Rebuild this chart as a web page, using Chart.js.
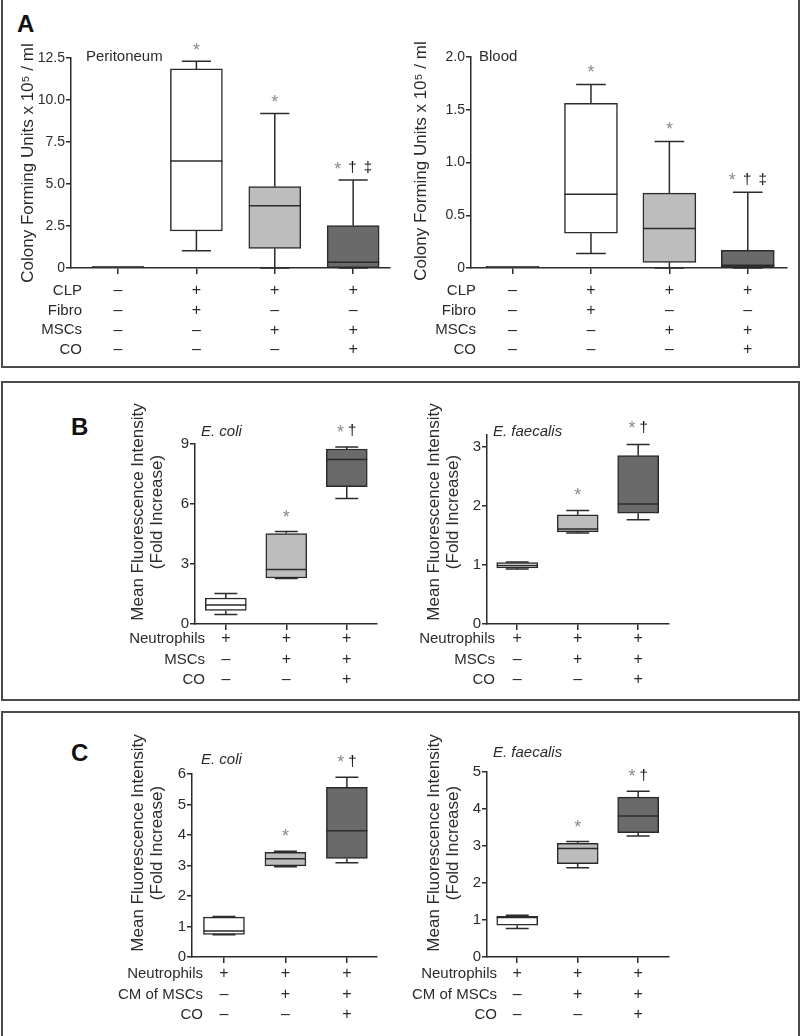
<!DOCTYPE html>
<html>
<head>
<meta charset="utf-8">
<script src="https://cdn.jsdelivr.net/npm/chart.js@4.4.1/dist/chart.umd.min.js"></script>
<style>
body { margin: 0; background: #fff; width: 800px; height: 1036px; position: relative; overflow: hidden; font-family: "Liberation Sans", Arial, sans-serif; }
canvas { position: absolute; left: 0; top: 0; }
.panel { position: absolute; border: 2px solid #4a4a4a; box-sizing: border-box; }
.letter { position: absolute; font-weight: bold; font-size: 24px; line-height: 24px; color: #111; }
</style>
</head>
<body>
<div class="panel" style="left:1px;top:-4px;width:799px;height:372px"></div>
<div class="panel" style="left:1px;top:381px;width:799px;height:320px"></div>
<div class="panel" style="left:1px;top:711px;width:799px;height:340px"></div>
<div class="letter" style="left:17px;top:12px">A</div>
<div class="letter" style="left:71px;top:415px">B</div>
<div class="letter" style="left:71px;top:741px">C</div>

<canvas id="peri" width="800" height="1036"></canvas>
<canvas id="blood" width="800" height="1036"></canvas>
<canvas id="ecoliB" width="800" height="1036"></canvas>
<canvas id="faecB" width="800" height="1036"></canvas>
<canvas id="ecoliC" width="800" height="1036"></canvas>
<canvas id="faecC" width="800" height="1036"></canvas>

<script>
//=====================================
// data
//=====================================

// panel A : CFU x 10^5 / ml, 4 groups
const groupsA = [1, 2, 3, 4];
const rowNamesA = ['CLP', 'Fibro', 'MSCs', 'CO'];
const clpA   = ['–', '+', '+', '+'];
const fibroA = ['–', '+', '–', '–'];
const mscA   = ['–', '–', '+', '+'];
const coA    = ['–', '–', '–', '+'];

const periMin = [0.03, 1.03, 0, 0];
const periQ1  = [0.03, 2.2, 1.17, 0.02];
const periMed = [0.06, 6.37, 3.7, 0.34];
const periQ3  = [0.09, 11.85, 4.84, 2.52];
const periMax = [0.09, 12.3, 9.2, 5.24];
const periTicks = [0, 2.5, 5, 7.5, 10, 12.5];
const periMarks = ['', '*', '*', '* † ‡'];

const bloodMin = [0.005, 0.137, 0, 0];
const bloodQ1  = [0.005, 0.33, 0.054, 0.008];
const bloodMed = [0.01, 0.70, 0.375, 0.026];
const bloodQ3  = [0.015, 1.56, 0.71, 0.168];
const bloodMax = [0.015, 1.74, 1.2, 0.718];
const bloodTicks = [0, 0.5, 1, 1.5, 2];
const bloodMarks = ['', '*', '*', '* † ‡'];

// panel B : phagocytosis, neutrophils + MSCs
const groupsBC = [1, 2, 3];
const rowNamesB = ['Neutrophils', 'MSCs', 'CO'];
const rowNamesC = ['Neutrophils', 'CM of MSCs', 'CO'];
const neutroRow = ['+', '+', '+'];
const mscRow    = ['–', '+', '+'];
const coRow     = ['–', '–', '+'];

const ecoliBMin = [0.47, 2.27, 6.27];
const ecoliBQ1  = [0.68, 2.3, 6.87];
const ecoliBMed = [0.95, 2.72, 8.22];
const ecoliBQ3  = [1.3, 4.52, 8.75];
const ecoliBMax = [1.52, 4.62, 8.85];
const ecoliBTicks = [0, 3, 6, 9];

const faecBMin = [0.93, 1.54, 1.765];
const faecBQ1  = [0.95, 1.56, 1.875];
const faecBMed = [0.99, 1.61, 2.03];
const faecBQ3  = [1.04, 1.85, 2.85];
const faecBMax = [1.05, 1.92, 3.04];
const faecBTicks = [0, 1, 2, 3];

// panel C : conditioned medium of MSCs
const ecoliCMin = [0.73, 2.96, 3.09];
const ecoliCQ1  = [0.74, 2.99, 3.23];
const ecoliCMed = [0.85, 3.22, 4.14];
const ecoliCQ3  = [1.31, 3.43, 5.56];
const ecoliCMax = [1.33, 3.47, 5.89];
const ecoliCTicks = [0, 1, 2, 3, 4, 5, 6];

const faecCMin = [0.77, 2.41, 3.27];
const faecCQ1  = [0.86, 2.52, 3.36];
const faecCMed = [1.07, 2.93, 3.81];
const faecCQ3  = [1.10, 3.07, 4.32];
const faecCMax = [1.13, 3.12, 4.48];
const faecCTicks = [0, 1, 2, 3, 4, 5];

const marksBC = ['', '*', '*†'];

//=====================================
// style
//=====================================
const INK = '#2b2b2b';
const FONT = '"Liberation Sans", Arial, sans-serif';
const fill4 = ['#ffffff', '#ffffff', '#bdbdbd', '#6a6a6a'];
const fill3 = ['#ffffff', '#bdbdbd', '#6a6a6a'];
const Y_W = 40, X_H = 10, X_TICK = 6;

// whiskers, medians, significance marks, +/- table, titles
function makeBoxPlugin(d) {
  return {
    id: 'boxes',
    afterDatasetsDraw(chart) {
      const {ctx, chartArea: a, scales: {x, y}} = chart;
      ctx.save();
      ctx.strokeStyle = INK;
      ctx.lineWidth = 1.5;
      const hw = d.boxW / 2, cw = d.boxW * 0.28;
      const y0 = a.bottom + X_TICK + d.rowPad + d.rowLH / 2;
      d.pos.forEach((p, i) => {
        const cx = x.getPixelForValue(p);
        const yq1 = y.getPixelForValue(d.q1[i]), yq3 = y.getPixelForValue(d.q3[i]);
        const ylo = y.getPixelForValue(d.lo[i]), yhi = y.getPixelForValue(d.hi[i]);
        const ymed = y.getPixelForValue(d.med[i]);
        ctx.beginPath();
        if (d.hi[i] > d.q3[i]) {
          ctx.moveTo(cx, yq3); ctx.lineTo(cx, yhi);
          ctx.moveTo(cx - cw, yhi); ctx.lineTo(cx + cw, yhi);
        }
        if (d.lo[i] < d.q1[i]) {
          ctx.moveTo(cx, yq1); ctx.lineTo(cx, ylo);
          ctx.moveTo(cx - cw, ylo); ctx.lineTo(cx + cw, ylo);
        }
        ctx.moveTo(cx - hw, ymed); ctx.lineTo(cx + hw, ymed);
        ctx.stroke();

        // * † ‡
        const parts = [...(d.marks[i] || '')];
        if (parts.length) {
          const fontOf = c => c === '*' ? '18px ' + FONT : '15px ' + FONT;
          let w = 0;
          parts.forEach(c => { ctx.font = fontOf(c); w += ctx.measureText(c).width + d.gap; });
          w -= d.gap;
          let xx = cx - w / 2;
          const yc = yhi - d.markUp;
          ctx.textAlign = 'left';
          ctx.textBaseline = 'alphabetic';
          parts.forEach(c => {
            ctx.font = fontOf(c);
            ctx.fillStyle = c === '*' ? '#8a8a8a' : '#111';
            ctx.fillText(c, xx, yc + (c === '*' ? 7 : 4.3));
            xx += ctx.measureText(c).width + d.gap;
          });
        }

        // +/- under this group
        ctx.fillStyle = INK;
        ctx.font = '16px ' + FONT;
        ctx.textAlign = 'center';
        ctx.textBaseline = 'middle';
        d.rows.forEach((r, k) => ctx.fillText(r[i], cx, y0 + k * d.rowLH));
      });

      // row names of the +/- table
      ctx.fillStyle = INK;
      ctx.font = '15px ' + FONT;
      ctx.textAlign = 'right';
      ctx.textBaseline = 'middle';
      d.rowNames.forEach((n, k) => ctx.fillText(n, d.rowRight, y0 + k * d.rowLH));

      // panel subtitle
      ctx.textAlign = 'left';
      ctx.font = (d.subItalic ? 'italic ' : '') + '15px ' + FONT;
      ctx.fillText(d.sub, d.subX, d.subY);

      // y title
      ctx.save();
      ctx.translate(d.titleX, d.titleY);
      ctx.rotate(-Math.PI / 2);
      ctx.textAlign = 'center';
      ctx.font = '17px ' + FONT;
      d.title.forEach((t, k) => ctx.fillText(t, 0, k * 19));
      ctx.restore();

      ctx.restore();
    }
  };
}

function boxChart(id, d) {
  const pad = {
    left: d.area[0] - Y_W, top: d.area[1],
    right: 800 - d.area[2], bottom: 1036 - d.area[3] - X_H
  };
  return new Chart(document.getElementById(id), {
    type: 'bar',
    data: {
      datasets: [{
        data: d.pos.map((p, i) => ({x: p, y: [d.q1[i], d.q3[i]]})),
        backgroundColor: d.fill,
        borderColor: INK,
        borderWidth: 1.5,
        borderSkipped: false,
        barThickness: d.boxW
      }]
    },
    options: {
      responsive: false,
      animation: false,
      layout: {padding: pad},
      plugins: {legend: {display: false}, tooltip: {enabled: false}},
      scales: {
        x: {
          type: 'linear', min: d.xMin, max: d.xMax, offset: false,
          afterBuildTicks: s => { s.ticks = d.pos.map(v => ({value: v})); },
          afterFit: s => { s.height = X_H; },
          ticks: {autoSkip: false, maxRotation: 0, callback: () => ''},
          grid: {offset: false, drawOnChartArea: false, tickLength: X_TICK, color: INK, lineWidth: 1.5},
          border: {color: INK, width: 1.5}
        },
        y: {
          min: 0, max: d.yMax,
          afterBuildTicks: s => { s.ticks = d.yTicks.map(v => ({value: v})); },
          afterFit: s => { s.width = Y_W; },
          ticks: {
            padding: 1, color: INK, font: {family: FONT, size: d.tickSize},
            callback: v => v === 0 ? '0' : v.toFixed(d.dec)
          },
          grid: {drawOnChartArea: false, tickLength: 5, color: INK, lineWidth: 1.5},
          border: {color: INK, width: 1.5}
        }
      }
    },
    plugins: [makeBoxPlugin(d)]
  });
}

//=====================================
// charts
//=====================================
const titleA = ['Colony Forming Units x 10⁵ / ml'];
const titleBC = ['Mean Fluorescence Intensity', '(Fold Increase)'];

boxChart('peri', {
  area: [71, 58, 390, 268], xMin: 0.4, xMax: 4.47, yMax: 12.5, yTicks: periTicks, dec: 1, tickSize: 14,
  pos: groupsA, lo: periMin, q1: periQ1, med: periMed, q3: periQ3, hi: periMax, fill: fill4,
  boxW: 52, marks: periMarks, markUp: 12, gap: 1.5,
  rows: [clpA, fibroA, mscA, coA], rowNames: rowNamesA, rowRight: 82, rowPad: 7.2, rowLH: 19.6,
  sub: 'Peritoneum', subItalic: false, subX: 86, subY: 57,
  title: titleA, titleX: 28, titleY: 163
});

boxChart('blood', {
  area: [471, 57, 787, 268], xMin: 0.47, xMax: 4.5, yMax: 2, yTicks: bloodTicks, dec: 1, tickSize: 14,
  pos: groupsA, lo: bloodMin, q1: bloodQ1, med: bloodMed, q3: bloodQ3, hi: bloodMax, fill: fill4,
  boxW: 53, marks: bloodMarks, markUp: 13, gap: 1.5,
  rows: [clpA, fibroA, mscA, coA], rowNames: rowNamesA, rowRight: 476, rowPad: 7.2, rowLH: 19.6,
  sub: 'Blood', subItalic: false, subX: 479, subY: 57,
  title: titleA, titleX: 421, titleY: 161
});

boxChart('ecoliB', {
  area: [195, 444, 377, 624], xMin: 0.49, xMax: 3.5, yMax: 9, yTicks: ecoliBTicks, dec: 0, tickSize: 15,
  pos: groupsBC, lo: ecoliBMin, q1: ecoliBQ1, med: ecoliBMed, q3: ecoliBQ3, hi: ecoliBMax, fill: fill3,
  boxW: 41, marks: marksBC, markUp: 16, gap: 4,
  rows: [neutroRow, mscRow, coRow], rowNames: rowNamesB, rowRight: 205, rowPad: -1.2, rowLH: 20.5,
  sub: 'E. coli', subItalic: true, subX: 201, subY: 432,
  title: titleBC, titleX: 138, titleY: 512
});

boxChart('faecB', {
  area: [487, 435, 669, 624], xMin: 0.5, xMax: 3.51, yMax: 3.2, yTicks: faecBTicks, dec: 0, tickSize: 15,
  pos: groupsBC, lo: faecBMin, q1: faecBQ1, med: faecBMed, q3: faecBQ3, hi: faecBMax, fill: fill3,
  boxW: 41, marks: marksBC, markUp: 17, gap: 4,
  rows: [neutroRow, mscRow, coRow], rowNames: rowNamesB, rowRight: 495, rowPad: -1.2, rowLH: 20.5,
  sub: 'E. faecalis', subItalic: true, subX: 493, subY: 432,
  title: titleBC, titleX: 434, titleY: 512
});

boxChart('ecoliC', {
  area: [192, 774, 377, 957], xMin: 0.48, xMax: 3.49, yMax: 6, yTicks: ecoliCTicks, dec: 0, tickSize: 15,
  pos: groupsBC, lo: ecoliCMin, q1: ecoliCQ1, med: ecoliCMed, q3: ecoliCQ3, hi: ecoliCMax, fill: fill3,
  boxW: 41, marks: marksBC, markUp: 16, gap: 4,
  rows: [neutroRow, mscRow, coRow], rowNames: rowNamesC, rowRight: 203, rowPad: 0.8, rowLH: 20.5,
  sub: 'E. coli', subItalic: true, subX: 201, subY: 760,
  title: titleBC, titleX: 138, titleY: 843
});

boxChart('faecC', {
  area: [487, 772, 669, 957], xMin: 0.5, xMax: 3.51, yMax: 5, yTicks: faecCTicks, dec: 0, tickSize: 15,
  pos: groupsBC, lo: faecCMin, q1: faecCQ1, med: faecCMed, q3: faecCQ3, hi: faecCMax, fill: fill3,
  boxW: 41, marks: marksBC, markUp: 16, gap: 4,
  rows: [neutroRow, mscRow, coRow], rowNames: rowNamesC, rowRight: 497, rowPad: 0.8, rowLH: 20.5,
  sub: 'E. faecalis', subItalic: true, subX: 493, subY: 753,
  title: titleBC, titleX: 434, titleY: 843
});
</script>
</body>
</html>
